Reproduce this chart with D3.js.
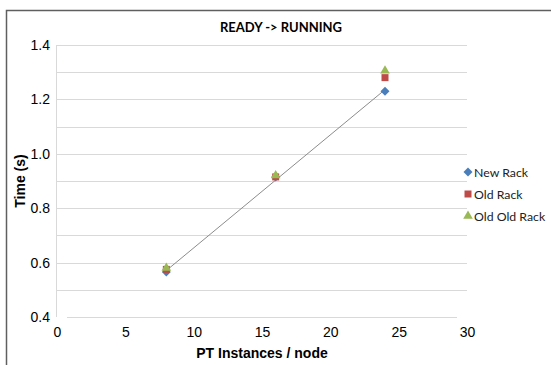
<!DOCTYPE html>
<html lang="en">
    <head>
        <meta charset="UTF-8" />
        <title>READY -> RUNNING</title>
        <style>
            body { margin: 0; background: #fff; }
            svg { display: block; }
        </style>
    </head>
    <body>
        <div id="chart"></div>
        <script src="https://d3js.org/d3.v7.min.js"></script>
        <script>
            // data
            var instances = [8, 16, 24];
            var newRack = [0.565, 0.915, 1.23];
            var oldRack = [0.575, 0.915, 1.28];
            var oldOldRack = [0.58, 0.92, 1.305];
            var seriesNames = ["New Rack", "Old Rack", "Old Old Rack"];
            var xTicks = [0, 5, 10, 15, 20, 25, 30];
            var yTicks = [0.4, 0.6, 0.8, 1.0, 1.2, 1.4];

            var W = 551, H = 365;
            var svg = d3.select("#chart").append("svg")
                .attr("width", W)
                .attr("height", H);

            // chart frame (only top and left show)
            svg.append("path")
                .attr("d", "M6.5," + H + "V10.5H" + W)
                .attr("fill", "none")
                .attr("stroke", "#5f5f5f")
                .attr("stroke-width", 1.5);

            var x = d3.scaleLinear().domain([0, 30]).range([57, 467]);
            var y = d3.scaleLinear().domain([0.4, 1.4]).range([317, 45]);

            // gridlines every 0.1
            svg.append("g")
                .selectAll("line")
                .data(d3.range(5, 15).map(function(d) { return d / 10; }))
                .enter()
                .append("line")
                .attr("x1", x(0))
                .attr("x2", x(30))
                .attr("y1", function(d) { return Math.round(y(d)) + 0.5; })
                .attr("y2", function(d) { return Math.round(y(d)) + 0.5; })
                .attr("stroke", "#d9d9d9")
                .attr("stroke-width", 1);

            // bottom baseline and left axis line
            svg.append("line")
                .attr("x1", x(0) + 10).attr("x2", x(30) - 10)
                .attr("y1", Math.round(y(0.4)) + 0.5).attr("y2", Math.round(y(0.4)) + 0.5)
                .attr("stroke", "#d9d9d9");
            svg.append("line")
                .attr("x1", x(0) - 0.5).attr("x2", x(0) - 0.5)
                .attr("y1", y(1.4)).attr("y2", y(0.4))
                .attr("stroke", "#d9d9d9");

            // axes (labels only)
            var xAxis = svg.append("g")
                .attr("transform", "translate(0," + (y(0.4) + 4) + ")")
                .call(d3.axisBottom(x).tickValues(xTicks).tickSize(0).tickPadding(6).tickFormat(d3.format("d")));
            var yAxis = svg.append("g")
                .attr("transform", "translate(" + (x(0) - 4) + ",0)")
                .call(d3.axisLeft(y).tickValues(yTicks).tickSize(0).tickPadding(3).tickFormat(d3.format(".1f")));
            [xAxis, yAxis].forEach(function(a) {
                a.select(".domain").remove();
                a.selectAll("text")
                    .attr("font-family", "Liberation Sans, Arial, sans-serif")
                    .attr("font-size", 14)
                    .attr("fill", "#000");
            });

            // title and axis titles
            svg.append("text")
                .attr("x", 281).attr("y", 32)
                .attr("text-anchor", "middle")
                .attr("font-family", "Lato, Calibri, sans-serif")
                .attr("font-weight", "bold")
                .attr("font-size", 13)
                .text("READY -> RUNNING");
            svg.append("text")
                .attr("x", 262).attr("y", 358)
                .attr("text-anchor", "middle")
                .attr("font-family", "Liberation Sans, Arial, sans-serif")
                .attr("font-weight", "bold")
                .attr("font-size", 14)
                .text("PT Instances / node");
            svg.append("text")
                .attr("transform", "translate(25," + y(0.9) + ") rotate(-90)")
                .attr("text-anchor", "middle")
                .attr("font-family", "Liberation Sans, Arial, sans-serif")
                .attr("font-weight", "bold")
                .attr("font-size", 14)
                .text("Time (s)");

            // linear trendline fitted on New Rack
            var mx = d3.mean(instances), my = d3.mean(newRack);
            var slope = d3.sum(instances, function(v, i) { return (v - mx) * (newRack[i] - my); }) /
                        d3.sum(instances, function(v) { return (v - mx) * (v - mx); });
            var trendX = [d3.min(instances), d3.max(instances)];
            svg.append("path")
                .datum(trendX)
                .attr("fill", "none")
                .attr("stroke", "#8c8c8c")
                .attr("stroke-width", 1)
                .attr("d", d3.line()
                    .x(function(d) { return x(d); })
                    .y(function(d) { return y(my + slope * (d - mx)); }));

            var colors = ["#4a7ebb", "#be4b48", "#98b954"];
            // diamond is a square turned 45 degrees
            var symbols = [d3.symbolSquare, d3.symbolSquare, d3.symbolTriangle];
            var sizes = [40, 49, 40];
            var turn = [45, 0, 0];
            var allSeries = [newRack, oldRack, oldOldRack];

            allSeries.forEach(function(vals, s) {
                svg.append("g")
                    .selectAll("path")
                    .data(vals)
                    .enter()
                    .append("path")
                    .attr("transform", function(d, i) {
                        return "translate(" + x(instances[i]) + "," + y(d) + ") rotate(" + turn[s] + ")";
                    })
                    .attr("d", d3.symbol().type(symbols[s]).size(sizes[s]))
                    .attr("fill", colors[s]);
            });

            // legend
            var legend = svg.append("g")
                .selectAll("g")
                .data(seriesNames)
                .enter()
                .append("g")
                .attr("transform", function(d, i) { return "translate(468," + (172 + i * 22) + ")"; });
            legend.append("path")
                .attr("transform", function(d, i) { return "rotate(" + turn[i] + ")"; })
                .attr("d", function(d, i) { return d3.symbol().type(symbols[i]).size(sizes[i])(); })
                .attr("fill", function(d, i) { return colors[i]; });
            legend.append("text")
                .attr("x", 6)
                .attr("y", 4.5)
                .attr("font-family", "Lato, Calibri, sans-serif")
                .attr("font-size", 12.3)
                .attr("fill", "#222")
                .text(function(d) { return d; });
        </script>
    </body>
</html>
